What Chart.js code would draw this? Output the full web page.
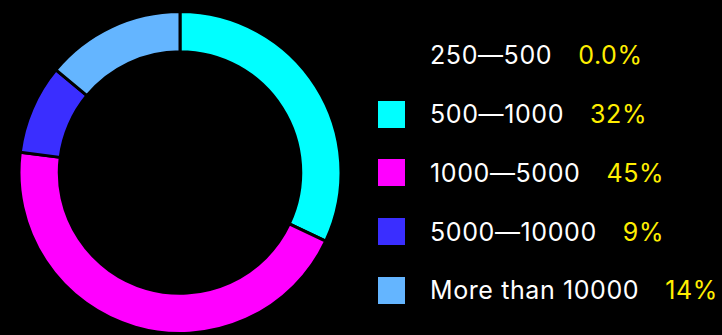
<!DOCTYPE html>
<html>
<head>
<meta charset="utf-8">
<script src="https://cdn.jsdelivr.net/npm/chart.js@4"></script>
<style>
    html, body { margin: 0; padding: 0; background: #000; }
    .wrap { position: relative; width: 722px; height: 335px; overflow: hidden; }
    .grafico { position: absolute; left: 0; top: 0; width: 360px; height: 335px; }
    #legenda {
        position: absolute; left: 378px; top: 26px; margin: 0; padding: 0;
        list-style: none; font-family: Inter, "Noto Sans", sans-serif; font-size: 25px;
        letter-spacing: 0.6px;
    }
    #legenda li { display: flex; align-items: center; height: 58.75px; white-space: nowrap; }
    #legenda .caixa { width: 27px; height: 27px; margin-right: 25px; }
    #legenda .nome { color: #fff; }
    #legenda .pct { color: #ffee00; margin-left: 26px; }
</style>
</head>
<body>
<div class="wrap">
    <div class="grafico"><canvas id="rosca"></canvas></div>
    <ul id="legenda"></ul>
</div>
<script>
const faixas = ['250—500', '500—1000', '1000—5000', '5000—10000', 'More than 10000'];
const percentuais = [0, 32, 45, 9, 14];
const cores = ['#000000', '#00ffff', '#ff00ff', '#3a2eff', '#64b5ff'];

const ctx = document.getElementById('rosca').getContext('2d');
const grafico = new Chart(ctx, {
    type: 'doughnut',
    data: {
        labels: faixas,
        datasets: [{
            data: percentuais,
            backgroundColor: cores,
            borderColor: '#000',
            borderWidth: 3
        }]
    },
    options: {
        responsive: true,
        maintainAspectRatio: false,
        animation: false,
        cutout: '75%',
        layout: { padding: { top: 10, bottom: 0, left: 0, right: 0 } },
        plugins: {
            legend: { display: false },
            tooltip: { enabled: false }
        }
    }
});

// legenda em HTML para poder pintar o percentual de outra cor
const lista = document.getElementById('legenda');
grafico.data.labels.forEach((nome, i) => {
    const v = grafico.data.datasets[0].data[i];
    const texto = (v === 0 ? v.toFixed(1) : String(v)) + '%';
    const li = document.createElement('li');
    li.innerHTML = `<span class="caixa" style="background:${cores[i]}"></span>` +
        `<span class="nome">${nome}</span><span class="pct">${texto}</span>`;
    lista.appendChild(li);
});
</script>
</body>
</html>
